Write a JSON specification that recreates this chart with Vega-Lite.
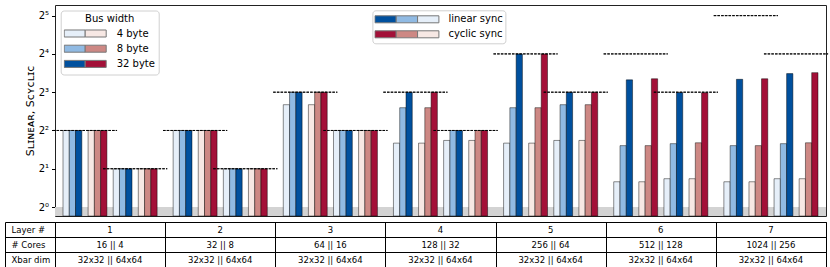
{
  "$schema": "https://vega.github.io/schema/vega-lite/v6.json",
  "padding": {"left": 4, "top": 4, "right": 0, "bottom": 0},
  "spacing": 0,
  "config": {"font": "DejaVu Sans", "view": {"stroke": "#222", "strokeWidth": 1}},
  "datasets": {
    "bars": [
      {"layer":1,"xbar":"32x32","sync":"linear","bus":"4 byte","s":4},{"layer":1,"xbar":"32x32","sync":"linear","bus":"8 byte","s":4},{"layer":1,"xbar":"32x32","sync":"linear","bus":"32 byte","s":4},
      {"layer":1,"xbar":"32x32","sync":"cyclic","bus":"4 byte","s":4},{"layer":1,"xbar":"32x32","sync":"cyclic","bus":"8 byte","s":4},{"layer":1,"xbar":"32x32","sync":"cyclic","bus":"32 byte","s":4},
      {"layer":1,"xbar":"64x64","sync":"linear","bus":"4 byte","s":2},{"layer":1,"xbar":"64x64","sync":"linear","bus":"8 byte","s":2},{"layer":1,"xbar":"64x64","sync":"linear","bus":"32 byte","s":2},
      {"layer":1,"xbar":"64x64","sync":"cyclic","bus":"4 byte","s":2},{"layer":1,"xbar":"64x64","sync":"cyclic","bus":"8 byte","s":2},{"layer":1,"xbar":"64x64","sync":"cyclic","bus":"32 byte","s":2},
      {"layer":2,"xbar":"32x32","sync":"linear","bus":"4 byte","s":4},{"layer":2,"xbar":"32x32","sync":"linear","bus":"8 byte","s":4},{"layer":2,"xbar":"32x32","sync":"linear","bus":"32 byte","s":4},
      {"layer":2,"xbar":"32x32","sync":"cyclic","bus":"4 byte","s":4},{"layer":2,"xbar":"32x32","sync":"cyclic","bus":"8 byte","s":4},{"layer":2,"xbar":"32x32","sync":"cyclic","bus":"32 byte","s":4},
      {"layer":2,"xbar":"64x64","sync":"linear","bus":"4 byte","s":2},{"layer":2,"xbar":"64x64","sync":"linear","bus":"8 byte","s":2},{"layer":2,"xbar":"64x64","sync":"linear","bus":"32 byte","s":2},
      {"layer":2,"xbar":"64x64","sync":"cyclic","bus":"4 byte","s":2},{"layer":2,"xbar":"64x64","sync":"cyclic","bus":"8 byte","s":2},{"layer":2,"xbar":"64x64","sync":"cyclic","bus":"32 byte","s":2},
      {"layer":3,"xbar":"32x32","sync":"linear","bus":"4 byte","s":6.38},{"layer":3,"xbar":"32x32","sync":"linear","bus":"8 byte","s":8},{"layer":3,"xbar":"32x32","sync":"linear","bus":"32 byte","s":8},
      {"layer":3,"xbar":"32x32","sync":"cyclic","bus":"4 byte","s":6.38},{"layer":3,"xbar":"32x32","sync":"cyclic","bus":"8 byte","s":8},{"layer":3,"xbar":"32x32","sync":"cyclic","bus":"32 byte","s":8},
      {"layer":3,"xbar":"64x64","sync":"linear","bus":"4 byte","s":4},{"layer":3,"xbar":"64x64","sync":"linear","bus":"8 byte","s":4},{"layer":3,"xbar":"64x64","sync":"linear","bus":"32 byte","s":4},
      {"layer":3,"xbar":"64x64","sync":"cyclic","bus":"4 byte","s":4},{"layer":3,"xbar":"64x64","sync":"cyclic","bus":"8 byte","s":4},{"layer":3,"xbar":"64x64","sync":"cyclic","bus":"32 byte","s":4},
      {"layer":4,"xbar":"32x32","sync":"linear","bus":"4 byte","s":3.18},{"layer":4,"xbar":"32x32","sync":"linear","bus":"8 byte","s":6.04},{"layer":4,"xbar":"32x32","sync":"linear","bus":"32 byte","s":8},
      {"layer":4,"xbar":"32x32","sync":"cyclic","bus":"4 byte","s":3.18},{"layer":4,"xbar":"32x32","sync":"cyclic","bus":"8 byte","s":6.04},{"layer":4,"xbar":"32x32","sync":"cyclic","bus":"32 byte","s":8},
      {"layer":4,"xbar":"64x64","sync":"linear","bus":"4 byte","s":3.34},{"layer":4,"xbar":"64x64","sync":"linear","bus":"8 byte","s":4},{"layer":4,"xbar":"64x64","sync":"linear","bus":"32 byte","s":4},
      {"layer":4,"xbar":"64x64","sync":"cyclic","bus":"4 byte","s":3.34},{"layer":4,"xbar":"64x64","sync":"cyclic","bus":"8 byte","s":4},{"layer":4,"xbar":"64x64","sync":"cyclic","bus":"32 byte","s":4},
      {"layer":5,"xbar":"32x32","sync":"linear","bus":"4 byte","s":3.18},{"layer":5,"xbar":"32x32","sync":"linear","bus":"8 byte","s":6.04},{"layer":5,"xbar":"32x32","sync":"linear","bus":"32 byte","s":16},
      {"layer":5,"xbar":"32x32","sync":"cyclic","bus":"4 byte","s":3.18},{"layer":5,"xbar":"32x32","sync":"cyclic","bus":"8 byte","s":6.04},{"layer":5,"xbar":"32x32","sync":"cyclic","bus":"32 byte","s":16},
      {"layer":5,"xbar":"64x64","sync":"linear","bus":"4 byte","s":3.34},{"layer":5,"xbar":"64x64","sync":"linear","bus":"8 byte","s":6.38},{"layer":5,"xbar":"64x64","sync":"linear","bus":"32 byte","s":8},
      {"layer":5,"xbar":"64x64","sync":"cyclic","bus":"4 byte","s":3.34},{"layer":5,"xbar":"64x64","sync":"cyclic","bus":"8 byte","s":6.38},{"layer":5,"xbar":"64x64","sync":"cyclic","bus":"32 byte","s":8},
      {"layer":6,"xbar":"32x32","sync":"linear","bus":"4 byte","s":1.58},{"layer":6,"xbar":"32x32","sync":"linear","bus":"8 byte","s":3.04},{"layer":6,"xbar":"32x32","sync":"linear","bus":"32 byte","s":10.0},
      {"layer":6,"xbar":"32x32","sync":"cyclic","bus":"4 byte","s":1.58},{"layer":6,"xbar":"32x32","sync":"cyclic","bus":"8 byte","s":3.04},{"layer":6,"xbar":"32x32","sync":"cyclic","bus":"32 byte","s":10.2},
      {"layer":6,"xbar":"64x64","sync":"linear","bus":"4 byte","s":1.67},{"layer":6,"xbar":"64x64","sync":"linear","bus":"8 byte","s":3.15},{"layer":6,"xbar":"64x64","sync":"linear","bus":"32 byte","s":7.95},
      {"layer":6,"xbar":"64x64","sync":"cyclic","bus":"4 byte","s":1.67},{"layer":6,"xbar":"64x64","sync":"cyclic","bus":"8 byte","s":3.2},{"layer":6,"xbar":"64x64","sync":"cyclic","bus":"32 byte","s":7.92},
      {"layer":7,"xbar":"32x32","sync":"linear","bus":"4 byte","s":1.58},{"layer":7,"xbar":"32x32","sync":"linear","bus":"8 byte","s":3.04},{"layer":7,"xbar":"32x32","sync":"linear","bus":"32 byte","s":10.1},
      {"layer":7,"xbar":"32x32","sync":"cyclic","bus":"4 byte","s":1.58},{"layer":7,"xbar":"32x32","sync":"cyclic","bus":"8 byte","s":3.04},{"layer":7,"xbar":"32x32","sync":"cyclic","bus":"32 byte","s":10.2},
      {"layer":7,"xbar":"64x64","sync":"linear","bus":"4 byte","s":1.67},{"layer":7,"xbar":"64x64","sync":"linear","bus":"8 byte","s":3.15},{"layer":7,"xbar":"64x64","sync":"linear","bus":"32 byte","s":11.2},
      {"layer":7,"xbar":"64x64","sync":"cyclic","bus":"4 byte","s":1.67},{"layer":7,"xbar":"64x64","sync":"cyclic","bus":"8 byte","s":3.2},{"layer":7,"xbar":"64x64","sync":"cyclic","bus":"32 byte","s":11.4}
    ],
    "ideal": [
      {"layer":1,"xbar":"32x32","ideal":4},{"layer":1,"xbar":"64x64","ideal":2},
      {"layer":2,"xbar":"32x32","ideal":4},{"layer":2,"xbar":"64x64","ideal":2},
      {"layer":3,"xbar":"32x32","ideal":8},{"layer":3,"xbar":"64x64","ideal":4},
      {"layer":4,"xbar":"32x32","ideal":8},{"layer":4,"xbar":"64x64","ideal":4},
      {"layer":5,"xbar":"32x32","ideal":16},{"layer":5,"xbar":"64x64","ideal":8},
      {"layer":6,"xbar":"32x32","ideal":16},{"layer":6,"xbar":"64x64","ideal":8},
      {"layer":7,"xbar":"32x32","ideal":32},{"layer":7,"xbar":"64x64","ideal":16}
    ],
    "table": [
      {"layer":1,"row":"Layer #","text":"1"},{"layer":2,"row":"Layer #","text":"2"},{"layer":3,"row":"Layer #","text":"3"},{"layer":4,"row":"Layer #","text":"4"},{"layer":5,"row":"Layer #","text":"5"},{"layer":6,"row":"Layer #","text":"6"},{"layer":7,"row":"Layer #","text":"7"},
      {"layer":1,"row":"# Cores","text":"16 || 4"},{"layer":2,"row":"# Cores","text":"32 || 8"},{"layer":3,"row":"# Cores","text":"64 || 16"},{"layer":4,"row":"# Cores","text":"128 || 32"},{"layer":5,"row":"# Cores","text":"256 || 64"},{"layer":6,"row":"# Cores","text":"512 || 128"},{"layer":7,"row":"# Cores","text":"1024 || 256"},
      {"layer":1,"row":"Xbar dim","text":"32x32 || 64x64"},{"layer":2,"row":"Xbar dim","text":"32x32 || 64x64"},{"layer":3,"row":"Xbar dim","text":"32x32 || 64x64"},{"layer":4,"row":"Xbar dim","text":"32x32 || 64x64"},{"layer":5,"row":"Xbar dim","text":"32x32 || 64x64"},{"layer":6,"row":"Xbar dim","text":"32x32 || 64x64"},{"layer":7,"row":"Xbar dim","text":"32x32 || 64x64"}
    ]
  },
  "vconcat": [
    {
      "width": 771,
      "height": 211,
      "layer": [
        {
          "data": {"values": [{}]},
          "mark": {"type": "rect", "color": "#d3d3d3"},
          "encoding": {
            "y": {"datum": 0.85, "type": "quantitative", "scale": {"type": "log", "base": 2, "domain": [0.85, 38.8], "nice": false},
              "axis": {"values": [1, 2, 4, 8, 16, 32], "labelExpr": "'2' + ['⁰','¹','²','³','⁴','⁵'][round(log(datum.value)/LN2)]", "title": "Sʟɪɴᴇᴀʀ, Sᴄʏᴄʟɪᴄ", "grid": false, "domain": false, "tickColor": "black", "tickSize": 3.5, "labelFontSize": 10, "labelColor": "black", "labelPadding": 3, "titleFontSize": 11, "titleFontWeight": "normal", "titleColor": "black", "titlePadding": 3}},
            "y2": {"datum": 1}
          }
        },
        {
          "data": {"name": "bars"},
          "transform": [
            {"calculate": "datum.xbar + ' ' + datum.sync + ' ' + datum.bus", "as": "slot"},
            {"calculate": "datum.sync + ' ' + datum.bus", "as": "series"}
          ],
          "mark": {"type": "bar", "stroke": "black", "strokeOpacity": 0.45, "strokeWidth": 1},
          "encoding": {
            "x": {"field": "layer", "type": "ordinal", "scale": {"type": "band", "paddingInner": 0.1455, "paddingOuter": 0.0727}, "axis": null},
            "xOffset": {"field": "slot", "type": "nominal", "scale": {"type": "band", "paddingInner": 0, "paddingOuter": 0, "domain": ["32x32 linear 4 byte","32x32 linear 8 byte","32x32 linear 32 byte","32x32 gap","32x32 cyclic 4 byte","32x32 cyclic 8 byte","32x32 cyclic 32 byte","mid gap","64x64 linear 4 byte","64x64 linear 8 byte","64x64 linear 32 byte","64x64 gap","64x64 cyclic 4 byte","64x64 cyclic 8 byte","64x64 cyclic 32 byte"]}},
            "y": {"field": "s", "type": "quantitative", "scale": {"type": "log", "base": 2, "domain": [0.85, 38.8], "nice": false}},
            "y2": {"datum": 0.85},
            "fill": {"field": "series", "type": "nominal", "scale": {"domain": ["linear 4 byte","linear 8 byte","linear 32 byte","cyclic 4 byte","cyclic 8 byte","cyclic 32 byte"], "range": ["#e6eff9","#90bae3","#00509e","#f7e8e4","#cd8884","#a31038"]}, "legend": null}
          }
        },
        {
          "data": {"name": "ideal"},
          "transform": [{"calculate": "datum.xbar + ' gap'", "as": "slot"}],
          "mark": {"type": "tick", "orient": "horizontal", "size": 64.15, "thickness": 0, "filled": false, "color": "black", "opacity": 1, "strokeWidth": 0.9, "strokeDash": [2.5, 1.2]},
          "encoding": {
            "x": {"field": "layer", "type": "ordinal", "scale": {"type": "band", "paddingInner": 0.1455, "paddingOuter": 0.0727}, "axis": null},
            "xOffset": {"field": "slot", "type": "nominal", "scale": {"type": "band", "paddingInner": 0, "paddingOuter": 0, "domain": ["32x32 linear 4 byte","32x32 linear 8 byte","32x32 linear 32 byte","32x32 gap","32x32 cyclic 4 byte","32x32 cyclic 8 byte","32x32 cyclic 32 byte","mid gap","64x64 linear 4 byte","64x64 linear 8 byte","64x64 linear 32 byte","64x64 gap","64x64 cyclic 4 byte","64x64 cyclic 8 byte","64x64 cyclic 32 byte"]}},
            "y": {"field": "ideal", "type": "quantitative", "scale": {"type": "log", "base": 2, "domain": [0.85, 38.8], "nice": false}}
          }
        },
        {
          "data": {"name": "bars"},
          "transform": [{"filter": "false"}],
          "mark": {"type": "point", "filled": true, "opacity": 1},
          "encoding": {
            "fill": {"field": "bus", "type": "nominal", "scale": {"domain": ["4 byte","8 byte","32 byte"], "range": ["#e6eff9","#90bae3","#00509e"]},
              "legend": {"title": "Bus width", "orient": "none", "legendX": 5.7, "legendY": 5.5, "symbolType": "M-1,-0.1667H0V0.1667H-1Z", "symbolSize": 1764, "clipHeight": 14, "rowPadding": 1.2, "padding": 3, "labelOffset": 10, "labelFontSize": 10, "labelColor": "black", "titleFontSize": 10, "titleFontWeight": "normal", "titleColor": "black", "titleAnchor": "middle", "titlePadding": 3, "fillColor": "rgba(255,255,255,0.8)", "strokeColor": "#d0d0d0", "cornerRadius": 3, "symbolStrokeColor": "#777", "symbolStrokeWidth": 1, "symbolOpacity": 1}}
          }
        },
        {
          "data": {"name": "bars"},
          "transform": [{"filter": "false"}],
          "mark": {"type": "point", "filled": true, "opacity": 1},
          "encoding": {
            "fill": {"field": "bus", "type": "nominal", "scale": {"domain": ["4 byte","8 byte","32 byte"], "range": ["#f7e8e4","#cd8884","#a31038"]},
              "legend": {"title": "Bus width", "orient": "none", "legendX": 5.7, "legendY": 5.5, "symbolType": "M0,-0.1667H1V0.1667H0Z", "symbolSize": 1764, "clipHeight": 14, "rowPadding": 1.2, "padding": 3, "labelOffset": 10, "labelFontSize": 10, "labelOpacity": 0, "titleFontSize": 10, "titleFontWeight": "normal", "titleOpacity": 0, "titleAnchor": "middle", "titlePadding": 3, "symbolStrokeColor": "#777", "symbolStrokeWidth": 1, "symbolOpacity": 1}}
          }
        },
        {
          "data": {"name": "bars"},
          "transform": [{"filter": "false"}],
          "mark": {"type": "point", "filled": true, "opacity": 1},
          "encoding": {
            "fill": {"field": "sync", "type": "nominal", "scale": {"domain": ["linear","cyclic"], "range": ["#00509e","#a31038"]},
              "legend": {"title": null, "orient": "none", "legendX": 317.4, "legendY": 5.3, "symbolType": "M-1,-0.1094H-0.3333V0.1094H-1Z", "symbolSize": 4096, "clipHeight": 14, "rowPadding": 1, "padding": 2, "labelOffset": 9, "labelFontSize": 10, "labelColor": "black", "labelExpr": "datum.label + ' sync'", "fillColor": "rgba(255,255,255,0.8)", "strokeColor": "#d0d0d0", "cornerRadius": 3, "symbolStrokeColor": "#777", "symbolStrokeWidth": 1, "symbolOpacity": 1}}
          }
        },
        {
          "data": {"name": "bars"},
          "transform": [{"filter": "false"}],
          "mark": {"type": "point", "filled": true, "opacity": 1},
          "encoding": {
            "fill": {"field": "sync", "type": "nominal", "scale": {"domain": ["linear","cyclic"], "range": ["#90bae3","#cd8884"]},
              "legend": {"title": null, "orient": "none", "legendX": 317.4, "legendY": 5.3, "symbolType": "M-0.3333,-0.1094H0.3333V0.1094H-0.3333Z", "symbolSize": 4096, "clipHeight": 14, "rowPadding": 1, "padding": 2, "labelOffset": 9, "labelFontSize": 10, "labelOpacity": 0, "labelExpr": "datum.label + ' sync'", "symbolStrokeColor": "#777", "symbolStrokeWidth": 1, "symbolOpacity": 1}}
          }
        },
        {
          "data": {"name": "bars"},
          "transform": [{"filter": "false"}],
          "mark": {"type": "point", "filled": true, "opacity": 1},
          "encoding": {
            "fill": {"field": "sync", "type": "nominal", "scale": {"domain": ["linear","cyclic"], "range": ["#e6eff9","#f7e8e4"]},
              "legend": {"title": null, "orient": "none", "legendX": 317.4, "legendY": 5.3, "symbolType": "M0.3333,-0.1094H1V0.1094H0.3333Z", "symbolSize": 4096, "clipHeight": 14, "rowPadding": 1, "padding": 2, "labelOffset": 9, "labelFontSize": 10, "labelOpacity": 0, "labelExpr": "datum.label + ' sync'", "symbolStrokeColor": "#777", "symbolStrokeWidth": 1, "symbolOpacity": 1}}
          }
        }
      ],
      "resolve": {"scale": {"fill": "independent"}, "legend": {"fill": "independent"}}
    },
    {
      "width": 771,
      "height": 45,
      "data": {"name": "table"},
      "mark": {"type": "text", "fontSize": 8.5, "color": "black"},
      "encoding": {
        "x": {"field": "layer", "type": "ordinal", "scale": {"type": "band", "paddingInner": 0, "paddingOuter": 0},
          "axis": {"orient": "top", "labels": false, "ticks": false, "domain": false, "grid": true, "tickBand": "extent", "gridColor": "black", "gridOpacity": 1, "gridWidth": 1, "title": null}},
        "y": {"field": "row", "type": "nominal", "scale": {"type": "band", "domain": ["Layer #", "# Cores", "Xbar dim"], "paddingInner": 0, "paddingOuter": 0},
          "axis": {"title": null, "offset": 50, "tickBand": "extent", "tickSize": -50, "tickColor": "black", "tickWidth": 1, "domainColor": "black", "domainWidth": 1, "grid": true, "gridColor": "black", "gridOpacity": 1, "gridWidth": 1, "labelAlign": "left", "labelPadding": 44, "labelFontSize": 8.5, "labelColor": "black"}},
        "text": {"field": "text"}
      }
    }
  ]
}
